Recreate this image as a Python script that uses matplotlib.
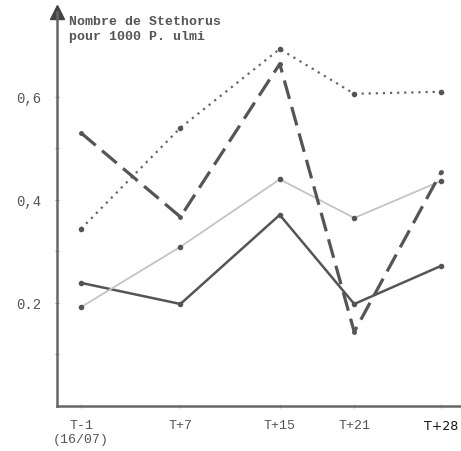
import matplotlib.pyplot as plt
import numpy as np

# sampling days relative to treatment
days = [-1, 7, 15, 21, 28]
day_labels = ["T-1\n(16/07)", "T+7", "T+15", "T+21", "T+28"]

# Stethorus per 1000 P. ulmi, one series per treatment
solid_vals  = [0.239, 0.198, 0.371, 0.198, 0.272]
light_vals  = [0.192, 0.309, 0.440, 0.365, 0.437]
dotted_vals = [0.344, 0.540, 0.693, 0.606, 0.610]
dashed_vals = [0.530, 0.367, 0.664, 0.144, 0.454]

y_ticks = [0.1, 0.2, 0.3, 0.4, 0.5, 0.6]
y_tick_labels = ["", "0.2", "", "0,4", "", "0,6"]

ink = "#555555"
mono = "Liberation Mono"

fig = plt.figure(figsize=(4.61, 4.52), dpi=100)
ax = fig.add_axes([57 / 461, 45 / 452, 1 - 57 / 461, 1 - 45 / 452])

ax.plot(days, solid_vals, color=ink, lw=1.8, marker="o", ms=3,
        solid_joinstyle="miter")
ax.plot(days, light_vals, color="#c4c4c4", lw=1.3, marker="o", ms=3,
        mfc=ink, mec=ink)
ax.plot(days, dotted_vals, color="#666666", lw=1.6, ls=(0, (1, 2.2)),
        marker="o", ms=3, mfc=ink, mec=ink)
ax.plot(days, dashed_vals, color=ink, lw=2.3, ls=(0, (6, 2.6)),
        marker="o", ms=2.5, mfc=ink, mec=ink)

ax.set_xlim(-2.94, 29.6)
ax.set_ylim(0, 0.79)

for side in ["top", "right"]:
    ax.spines[side].set_visible(False)
ax.spines["left"].set_bounds(0, 0.765)
ax.spines["left"].set_color("#666666")
ax.spines["left"].set_linewidth(1.8)
ax.spines["bottom"].set_color("#666666")
ax.spines["bottom"].set_linewidth(1.8)

# arrow head on the y axis
ax.plot([-2.94], [0.765], marker="^", ms=10, color="#444444",
        clip_on=False, transform=ax.transData)

ax.set_yticks(y_ticks)
ax.set_yticklabels(y_tick_labels, fontsize=10, family=mono, color=ink)
ax.tick_params(axis="y", length=3, direction="inout", color="#999999", pad=10)

ax.set_xticks(days)
ax.set_xticklabels(day_labels, family=mono, fontsize=9.5, color=ink)
ax.tick_params(axis="x", length=3, direction="inout", color="#bbbbbb", pad=8)
for lbl in ax.get_xticklabels():
    lbl.set_verticalalignment("top")
ax.get_xticklabels()[0].set_horizontalalignment("center")
last = ax.get_xticklabels()[-1]
last.set_family("DejaVu Sans")
last.set_color("#111111")
last.set_fontsize(9)

ax.text(0.03, 0.96, "Nombre de Stethorus\npour 1000 P. ulmi",
        transform=ax.transAxes, family=mono, fontsize=9.5, color=ink,
        ha="left", va="top", linespacing=1.3, weight="bold")

fig.savefig("out.png", dpi=100)
